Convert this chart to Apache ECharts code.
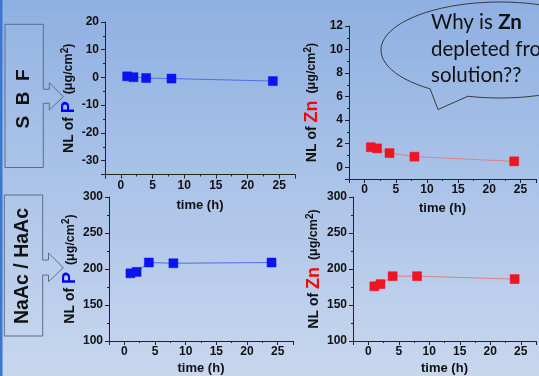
<!DOCTYPE html>
<html>
<head>
<meta charset="utf-8">
<script src="https://cdn.jsdelivr.net/npm/echarts@6/dist/echarts.min.js"></script>
<style>html,body{margin:0;padding:0;}#main{width:539px;height:376px;}</style>
</head>
<body>
<div id="main"></div>
<script>
// sampling times (h)
var times = [1, 2, 4, 8, 24];
// NL values
var pSBF = [0.4, 0.1, -0.2, -0.4, -1.3];
var znSBF = [1.7, 1.6, 1.2, 0.9, 0.5];
var pNaAc = [194, 196, 209, 208, 209];
var znNaAc = [176, 179, 190, 190, 186];

var FONT = 'Liberation Sans';
var myChart = echarts.init(document.getElementById('main'));

function pairs(arr) {
  return times.map(function (t, i) { return [t, arr[i]]; });
}

// outline of the speech bubble (ellipse + tail)
function bubblePoints() {
  var cx = 500, cy = 50, rx = 119, ry = 48;
  var pts = [];
  var a0 = 1.843, a1 = 2.199 - 2 * Math.PI;
  for (var i = 0; i <= 80; i++) {
    var a = a0 + (a1 - a0) * i / 80;
    pts.push([cx + rx * Math.cos(a), cy + ry * Math.sin(a)]);
  }
  pts.push([438, 109.5]);
  return pts;
}

function timeAxis(idx, gap) {
  return {
    type: 'value', gridIndex: idx, min: -2.5, max: 27.5, minInterval: 5, maxInterval: 5,
    name: 'time (h)', nameLocation: 'middle', nameGap: gap,
    nameTextStyle: {fontFamily: FONT, fontWeight: 'bold', fontSize: 13, color: '#111'},
    axisLine: {onZero: false, lineStyle: {color: '#222', width: 1}},
    axisTick: {length: 4, lineStyle: {color: '#222'}},
    minorTick: {show: true, splitNumber: 2, length: 2, lineStyle: {color: '#222'}},
    splitLine: {show: false},
    axisLabel: {fontFamily: FONT, fontWeight: 'bold', fontSize: 12, color: '#111', margin: 5,
      formatter: function (v) { return v % 5 === 0 ? v : ''; }}
  };
}

function nlAxis(idx, min, max, step, elem, color, gap) {
  return {
    type: 'value', gridIndex: idx, min: min, max: max, minInterval: step, maxInterval: step,
    name: '{a|NL of }{e|' + elem + '}{u|  (μg/cm}{s|2}{u|)}',
    nameLocation: 'middle', nameRotate: 90, nameGap: gap,
    nameTextStyle: {
      fontFamily: FONT,
      rich: {
        a: {fontFamily: FONT, fontSize: 14, fontWeight: 'bold', color: '#111'},
        e: {fontFamily: FONT, fontSize: 18, fontWeight: 'bold', color: color},
        u: {fontFamily: FONT, fontSize: 12.5, fontWeight: 'bold', color: '#111'},
        s: {fontFamily: FONT, fontSize: 10, fontWeight: 'bold', color: '#111', verticalAlign: 'top', lineHeight: 16}
      }
    },
    axisLine: {show: true, onZero: false, lineStyle: {color: '#222', width: 1}},
    axisTick: {show: true, length: 4, lineStyle: {color: '#222'}},
    minorTick: {show: true, splitNumber: 2, length: 2, lineStyle: {color: '#222'}},
    splitLine: {show: false},
    axisLabel: {fontFamily: FONT, fontWeight: 'bold', fontSize: 12, color: '#111', margin: 6,
      formatter: function (v) { return v % step === 0 ? v : ''; }}
  };
}

function lineSeries(idx, arr, fill, lineColor) {
  return {
    type: 'line', xAxisIndex: idx, yAxisIndex: idx, data: pairs(arr),
    symbol: 'rect', symbolSize: 9,
    itemStyle: {color: fill, borderColor: fill, borderWidth: 0.5},
    lineStyle: {color: lineColor, width: 1},
    animation: false
  };
}

var option = {
  animation: false,
  graphic: [
    {type: 'rect', z: -10, shape: {x: 0, y: 0, width: 539, height: 376},
      style: {fill: new echarts.graphic.LinearGradient(0, 0, 0, 1, [
        {offset: 0, color: '#8fb0e2'}, {offset: 1, color: '#c8d7ee'}])}},
    {type: 'rect', z: -9, shape: {x: 0, y: 0, width: 2.5, height: 376}, style: {fill: '#3c76cf'}},
    // S B F label box with arrow
    {type: 'polygon', shape: {points: [[43.3, 89.3], [43.3, 24.3], [5, 24.3], [5, 167.5], [43.3, 167.5], [43.3, 103.3],
      [49.3, 103.3], [49.3, 110], [63.3, 96.7], [49.3, 82.7], [49.3, 89.3]]},
      style: {fill: 'rgba(255,255,255,0.04)', stroke: '#54708f', lineWidth: 1}},
    {type: 'text', x: 24, y: 99, rotation: Math.PI / 2,
      style: {text: 'S  B  F', font: 'bold 19px "Liberation Sans"', fill: '#111', align: 'center', verticalAlign: 'middle'}},
    // NaAc / HaAc label box with arrow
    {type: 'polygon', shape: {points: [[42.7, 260], [42.7, 195], [4.3, 195], [4.3, 336], [42.7, 336], [42.7, 275],
      [48.5, 275], [48.5, 281.7], [63.3, 267.7], [48.5, 253], [48.5, 260]]},
      style: {fill: 'rgba(255,255,255,0.04)', stroke: '#54708f', lineWidth: 1}},
    {type: 'text', x: 23, y: 266, rotation: Math.PI / 2,
      style: {text: 'NaAc / HaAc', font: 'bold 19.5px "Liberation Sans"', fill: '#111', align: 'center', verticalAlign: 'middle'}},
    // speech bubble
    {type: 'polygon', shape: {points: bubblePoints()},
      style: {fill: 'none', stroke: '#3a3a3a', lineWidth: 1}},
    {type: 'text', x: 431, y: 22,
      style: {text: 'Why is {b|Zn}', font: '20.5px Lato', fill: '#111', verticalAlign: 'middle',
        rich: {b: {font: 'bold 20.5px Lato', fill: '#111'}}}},
    {type: 'text', x: 431, y: 49,
      style: {text: 'depleted from', font: '20.5px Lato', fill: '#111', verticalAlign: 'middle'}},
    {type: 'text', x: 431, y: 75.5,
      style: {text: 'solution??', font: '20.5px Lato', fill: '#111', verticalAlign: 'middle'}}
  ],
  grid: [
    {left: 105, top: 22, width: 190, height: 152.5},
    {left: 349, top: 26, width: 189.5, height: 153},
    {left: 109, top: 197, width: 184, height: 148},
    {left: 353, top: 197, width: 189, height: 147.5}
  ],
  xAxis: [timeAxis(0, 24), timeAxis(1, 23), timeAxis(2, 21), timeAxis(3, 21)],
  yAxis: [
    nlAxis(0, -35, 20, 10, 'P', '#0000ff', 27),
    nlAxis(1, -1, 12, 2, 'Zn', '#ff0000', 28),
    nlAxis(2, 100, 300, 50, 'P', '#0000ff', 29),
    nlAxis(3, 100, 300, 50, 'Zn', '#ff0000', 30)
  ],
  series: [
    lineSeries(0, pSBF, '#0a14f0', '#4d6fe6'),
    lineSeries(1, znSBF, '#ee1520', '#e27d8a'),
    lineSeries(2, pNaAc, '#0a14f0', '#4d6fe6'),
    lineSeries(3, znNaAc, '#ee1520', '#e27d8a')
  ]
};

myChart.setOption(option);
</script>
</body>
</html>
